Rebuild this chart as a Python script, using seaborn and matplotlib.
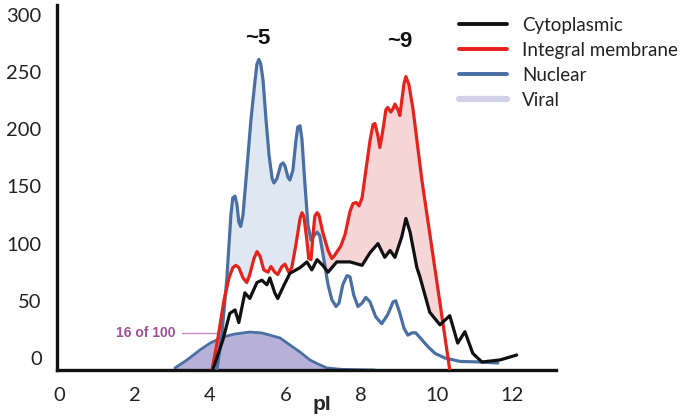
import numpy as np
import pandas as pd
import matplotlib
matplotlib.use("Agg")
import matplotlib.pyplot as plt
import seaborn as sns
from matplotlib.lines import Line2D

# ---------------- data ----------------
cyto_pi = [4.07, 4.34, 4.52, 4.66, 4.76, 4.92, 5.05, 5.24, 5.37, 5.50, 5.58, 5.71, 5.79,
           5.93, 6.11, 6.38, 6.56, 6.69, 6.83, 6.98, 7.12, 7.35, 7.70, 8.02, 8.23, 8.44,
           8.62, 8.76, 8.89, 9.07, 9.18, 9.29, 9.47, 9.55, 9.81, 10.08, 10.34, 10.55,
           10.74, 10.95, 11.19, 11.67, 12.11]
cyto_n = [-10.5, 16, 39, 42, 31, 57, 52, 66, 68, 64, 70, 57, 52,
          62, 74, 79, 84, 77, 86, 81, 75, 84, 84, 81, 92, 100,
          88, 94, 88, 106, 122, 110, 79, 71, 40, 29, 37, 13,
          23, 4, -3.5, -1.7, 2.6]

memb_pi = [4.05, 4.20, 4.37, 4.50, 4.60, 4.68, 4.76, 4.87, 4.97, 5.05, 5.16, 5.24, 5.32,
           5.42, 5.53, 5.61, 5.71, 5.79, 5.90, 5.98, 6.08, 6.16, 6.27, 6.38, 6.43, 6.48,
           6.56, 6.61, 6.67, 6.72, 6.77, 6.83, 6.88, 6.98, 7.12, 7.22, 7.30, 7.38, 7.46,
           7.57, 7.70, 7.78, 7.86, 7.94, 8.02, 8.12, 8.23, 8.31, 8.36, 8.44, 8.49, 8.57,
           8.65, 8.70, 8.78, 8.84, 8.89, 8.97, 9.02, 9.07, 9.13, 9.18, 9.26, 9.37, 9.60,
           9.97, 10.34]
memb_n = [-10.5, 16, 51, 70, 79, 81, 79, 70, 66, 73, 87, 93, 89,
          77, 75, 80, 75, 73, 80, 82, 75, 79, 99, 122, 127, 124,
          103, 87, 86, 107, 124, 127, 125, 110, 94, 87, 90, 94, 98,
          108, 128, 135, 136, 133, 140, 164, 190, 204, 205, 194, 184, 199,
          217, 219, 215, 218, 222, 217, 212, 225, 240, 246, 239, 217, 156,
          73, -10.5]

nuc_pi = [4.18, 4.31, 4.44, 4.55, 4.60, 4.66, 4.71, 4.76, 4.81, 4.87, 4.97, 5.08, 5.19,
          5.24, 5.29, 5.34, 5.40, 5.48, 5.56, 5.64, 5.69, 5.77, 5.87, 5.93, 5.98, 6.06,
          6.11, 6.19, 6.27, 6.32, 6.38, 6.43, 6.51, 6.59, 6.67, 6.75, 6.83, 6.90, 7.01,
          7.12, 7.22, 7.33, 7.41, 7.51, 7.62, 7.70, 7.80, 7.91, 8.02, 8.12, 8.23, 8.38,
          8.54, 8.70, 8.84, 8.91, 9.02, 9.13, 9.23, 9.34, 9.44, 9.60, 9.76, 9.95, 10.21,
          10.61, 11.14, 11.61]
nuc_n = [-10.5, 20, 68, 125, 140, 141.5, 134, 119, 115, 125, 164, 208, 243,
         257, 261, 257, 243, 208, 177, 157, 153, 157, 169, 170.5, 168, 158,
         155.6, 164, 190, 202, 203, 191, 151, 116, 103, 107, 110, 107, 86,
         64, 51, 45, 48, 64, 72, 71, 55, 45, 48, 53, 49, 36,
         30, 38, 49, 50, 39, 26, 20, 22, 22, 16, 10, 4, 0,
         -3, -3.5, -4.4]

viral_pi = [3.07, 3.39, 3.73, 4.00, 4.34, 4.66, 5.05, 5.37, 5.58, 5.85, 6.11, 6.38,
            6.64, 6.85, 7.09, 7.50, 8.36]
viral_n = [-8.7, -1.7, 7, 13, 18.4, 21, 22.7, 21.9, 20, 17.5, 11.4, 5.2,
           -1.7, -5.2, -8.7, -10, -10.5]

series_names = ["Cytoplasmic", "Integral membrane", "Nuclear", "Viral"]
x_ticks = [0, 2, 4, 6, 8, 10, 12]
y_ticks = [0, 50, 100, 150, 200, 250, 300]
peak_labels = ["~5", "~9"]
peak_pos_pi = [5.26, 9.02]
peak_pos_n = [279, 277]
viral_note = "16 of 100"

# ---------------- style ----------------
sns.set_style("white")
plt.rcParams['font.family'] = ['Lato', 'DejaVu Sans']

c_black = "#111111"
c_red = "#e5221c"
c_blue = "#4a6fa3"
c_lblue = "#dfe7f2"
c_pink = "#f6d5d7"
c_viral = "#b7b1d9"
c_viral_leg = "#d3d1e8"

base = -10.5

fig = plt.figure(figsize=(6.86, 4.2), dpi=100)
ax = fig.add_axes([57 / 686, 50 / 420, 499 / 686, 365 / 420])

df = pd.concat([
    pd.DataFrame({"pI": cyto_pi, "n": cyto_n, "loc": series_names[0]}),
    pd.DataFrame({"pI": memb_pi, "n": memb_n, "loc": series_names[1]}),
    pd.DataFrame({"pI": nuc_pi, "n": nuc_n, "loc": series_names[2]}),
], ignore_index=True)

# fills (region between curves)
grid = np.unique(np.concatenate([cyto_pi, memb_pi, nuc_pi]))
K = np.interp(grid, cyto_pi, cyto_n, left=base, right=base)
R = np.interp(grid, memb_pi, memb_n, left=base, right=base)
B = np.interp(grid, nuc_pi, nuc_n, left=base, right=base)
low_b = np.maximum(np.maximum(R, K), base)
ax.fill_between(grid, B, low_b, where=B > low_b, interpolate=True,
                color=c_lblue, lw=0, zorder=1)
low_r = np.maximum(K, B)
ax.fill_between(grid, R, low_r, where=R > low_r, interpolate=True,
                color=c_pink, lw=0, zorder=1)

# viral distribution
ax.fill_between(viral_pi, viral_n, base, color=c_viral, lw=0, zorder=2)
sns.lineplot(x=viral_pi, y=viral_n, ax=ax, color=c_blue, lw=2.0, zorder=2.5,
             estimator=None, errorbar=None)

# main lines
pal = {series_names[0]: c_black, series_names[1]: c_red, series_names[2]: c_blue}
order = [series_names[2], series_names[1], series_names[0]]
for name in order:
    sub = df[df["loc"] == name]
    sns.lineplot(data=sub, x="pI", y="n", ax=ax, color=pal[name], lw=2.3,
                 estimator=None, errorbar=None, zorder=3,
                 solid_joinstyle="round", solid_capstyle="round")

# axes
ax.set_xlim(-0.05, 13.15)
ax.set_ylim(base, 308.6)
ax.set_xticks(x_ticks)
ax.set_yticks(y_ticks)
ax.set_xticklabels([str(t) for t in x_ticks])
ax.set_yticklabels([str(t) for t in y_ticks])
ax.tick_params(axis="both", length=0, labelsize=14.5, colors="#222222")
ax.tick_params(axis="x", pad=12)
ax.tick_params(axis="y", pad=11)
ax.set_xlabel("pI", fontsize=15, fontweight="bold", family=["Liberation Sans", "DejaVu Sans"])
ax.xaxis.set_label_coords((322 - 57) / 499, -25 / 365)
ax.set_ylabel("")
for s in ["top", "right"]:
    ax.spines[s].set_visible(False)
for s in ["left", "bottom"]:
    ax.spines[s].set_linewidth(2.4)
    ax.spines[s].set_color("#111111")
ax.grid(False)

# annotations
for lab, px, py in zip(peak_labels, peak_pos_pi, peak_pos_n):
    ax.text(px, py, lab, ha="center", va="center", fontsize=16, fontweight="bold",
            family=["Liberation Sans", "DejaVu Sans"], color="#111111")

ax.plot([3.25, 4.18], [21.9, 21.9], color="#c98cc3", lw=1.0, zorder=2.6)
ax.text(3.09, 21.9, viral_note, ha="right", va="center", fontsize=10, fontweight="bold",
        family=["Liberation Sans", "DejaVu Sans"], color="#a0509b")

# legend
handles = [Line2D([], [], color=c_black, lw=2.8),
           Line2D([], [], color=c_red, lw=2.8),
           Line2D([], [], color=c_blue, lw=2.8),
           Line2D([], [], color=c_viral_leg, lw=4.5)]
leg = fig.legend(handles, series_names, loc="upper left",
                 bbox_to_anchor=(459 / 686, 1 - 17 / 420), frameon=False,
                 fontsize=13.5, handlelength=2.55, handletextpad=0.8,
                 labelspacing=0.42, borderpad=0, borderaxespad=0)
for t in leg.get_texts():
    t.set_color("#222222")

fig.savefig("out.png", dpi=100)
